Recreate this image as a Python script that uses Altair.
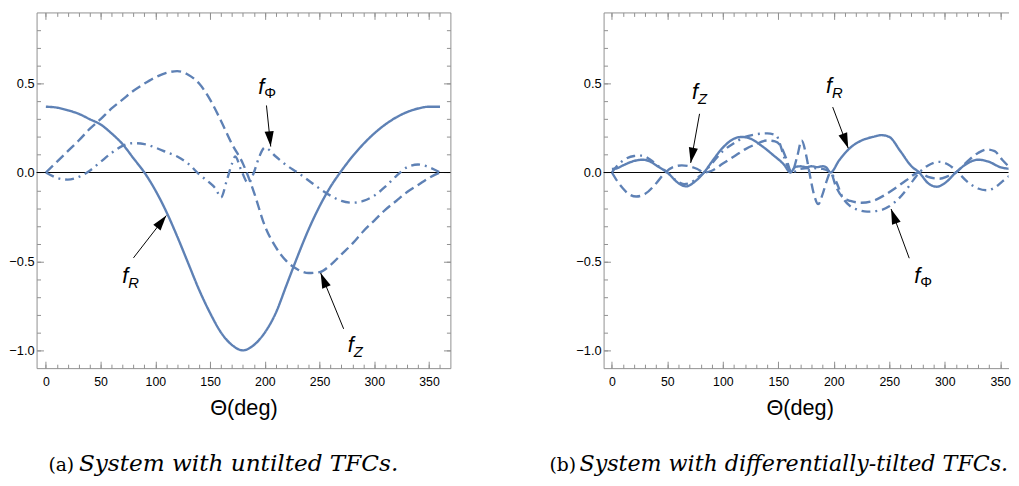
import math
import altair as alt
import pandas as pd

# ---------------- data ----------------
# Panel (a): untilted TFCs
A_R_THETA = [0, 10, 20, 30, 40, 50, 60, 70, 80, 90, 100, 110, 120, 130, 140, 150, 160, 170, 180,
             190, 200, 210, 220, 230, 240, 250, 260, 270, 280, 290, 300, 310, 320, 330, 340, 350, 360]
A_R_VAL = [0.37, 0.365, 0.35, 0.33, 0.30, 0.27, 0.22, 0.16, 0.08, 0.00, -0.10, -0.22, -0.36, -0.51,
           -0.66, -0.79, -0.90, -0.97, -1.00, -0.97, -0.90, -0.79, -0.63, -0.47, -0.32, -0.19, -0.08,
           0.01, 0.09, 0.16, 0.22, 0.27, 0.31, 0.34, 0.36, 0.37, 0.37]

A_Z_THETA = [0, 10, 20, 30, 40, 50, 60, 70, 80, 90, 100, 110, 120, 130, 140, 150, 160, 170, 180,
             190, 200, 210, 220, 230, 240, 250, 260, 270, 280, 290, 300, 310, 320, 330, 340, 350, 360]
A_Z_VAL = [0.0, 0.06, 0.12, 0.18, 0.245, 0.30, 0.36, 0.41, 0.46, 0.50, 0.535, 0.56, 0.57, 0.55,
           0.50, 0.41, 0.29, 0.16, 0.05, -0.11, -0.30, -0.42, -0.50, -0.545, -0.565, -0.56, -0.52,
           -0.46, -0.40, -0.33, -0.27, -0.21, -0.16, -0.11, -0.07, -0.03, 0.0]

A_P_THETA = [0, 10, 20, 30, 40, 50, 60, 70, 80, 90, 100, 110, 120, 130, 140, 150, 155, 160, 165,
             170, 173, 178, 185, 190, 195, 200, 210, 220, 230, 240, 250, 260, 270, 280, 290, 300,
             310, 320, 330, 340, 350, 360]
A_P_VAL = [0.0, -0.03, -0.04, -0.025, 0.01, 0.06, 0.11, 0.15, 0.165, 0.16, 0.14, 0.115, 0.09, 0.05,
           -0.01, -0.06, -0.09, -0.14, -0.05, 0.05, 0.09, 0.02, -0.06, 0.0, 0.09, 0.14, 0.09, 0.04,
           0.0, -0.045, -0.09, -0.13, -0.16, -0.17, -0.16, -0.13, -0.08, -0.02, 0.03, 0.045, 0.03, 0.0]

# Panel (b): differentially-tilted TFCs
B_R_THETA = [0, 5, 10, 20, 28, 35, 40, 50, 60, 67, 75, 83, 90, 100, 110, 117, 125, 135, 145, 155,
             161, 165, 170, 175, 180, 185, 190, 193, 197, 205, 215, 225, 235, 243, 250, 260, 270,
             277, 285, 293, 300, 310, 320, 330, 340, 350, 360]
B_R_VAL = [0.02, 0.025, 0.04, 0.065, 0.072, 0.06, 0.04, 0.0, -0.06, -0.078, -0.05, 0.0, 0.06, 0.14,
           0.19, 0.20, 0.19, 0.15, 0.10, 0.045, 0.0, 0.03, 0.035, 0.03, 0.035, 0.03, 0.035, 0.03,
           0.0, 0.07, 0.14, 0.18, 0.20, 0.21, 0.20, 0.12, 0.035, 0.0, -0.06, -0.08, -0.06, 0.0,
           0.05, 0.072, 0.06, 0.03, 0.02]

B_Z_THETA = [0, 5, 10, 15, 22, 30, 40, 48, 55, 63, 70, 77, 83, 90, 100, 110, 120, 130, 140, 147,
             152, 157, 162, 167, 171, 175, 178, 182, 186, 190, 194, 197, 202, 208, 215, 225, 235,
             245, 255, 265, 277, 285, 295, 303, 310, 320, 330, 338, 345, 352, 360]
B_Z_VAL = [0.0, -0.05, -0.09, -0.12, -0.135, -0.12, -0.06, 0.0, 0.03, 0.04, 0.035, 0.02, 0.0, 0.01,
           0.05, 0.09, 0.13, 0.16, 0.18, 0.175, 0.15, 0.08, 0.0, 0.09, 0.18, 0.10, 0.0, -0.12,
           -0.178, -0.12, -0.04, 0.0, -0.08, -0.14, -0.16, -0.17, -0.16, -0.13, -0.09, -0.045, 0.0,
           -0.025, -0.035, -0.02, 0.0, 0.06, 0.11, 0.13, 0.12, 0.07, 0.02]

B_P_THETA = [0, 5, 12, 20, 27, 35, 42, 50, 58, 65, 70, 77, 83, 90, 100, 110, 120, 130, 140, 148,
             151, 154, 158, 162, 170, 180, 190, 197, 202, 208, 215, 222, 230, 240, 250, 258, 265,
             272, 277, 285, 295, 303, 312, 320, 330, 338, 345, 352, 360]
B_P_VAL = [0.0, 0.04, 0.075, 0.093, 0.095, 0.07, 0.035, 0.0, -0.045, -0.065, -0.06, -0.03, 0.0, 0.05,
           0.12, 0.165, 0.20, 0.215, 0.22, 0.21, 0.17, 0.11, 0.04, 0.0, 0.02, 0.025, 0.02, 0.0,
           -0.05, -0.14, -0.19, -0.21, -0.22, -0.215, -0.19, -0.15, -0.10, -0.04, 0.0, 0.04, 0.06,
           0.045, 0.0, -0.05, -0.09, -0.10, -0.085, -0.05, -0.01]

SERIES = ["fR", "fZ", "fPhi"]

# axis ticks
X_MAJOR = [0, 50, 100, 150, 200, 250, 300, 350]
X_MINOR = [0, 10, 20, 30, 40, 50, 60, 70, 80, 90, 100, 110, 120, 130, 140, 150, 160, 170, 180,
           190, 200, 210, 220, 230, 240, 250, 260, 270, 280, 290, 300, 310, 320, 330, 340, 350, 360]
Y_MAJOR = [-1.0, -0.5, 0.0, 0.5]
Y_MINOR = [-1.0, -0.9, -0.8, -0.7, -0.6, -0.5, -0.4, -0.3, -0.2, -0.1, 0.0, 0.1, 0.2, 0.3, 0.4,
           0.5, 0.6, 0.7, 0.8]

# annotations: label anchor of "f", subscript, arrow start and arrow tip (data units)
A_LAB_X = [72.5, 278.6, 196.7]
A_LAB_Y = [-0.584, -0.972, 0.48]
A_LAB_SUB = ["R", "Z", "Φ"]
A_ARR_X0 = [80, 272, 201.5]
A_ARR_Y0 = [-0.48, -0.879, 0.377]
A_ARR_X1 = [110, 251, 205.4]
A_ARR_Y1 = [-0.242, -0.565, 0.146]

B_LAB_X = [74.9, 195.6, 275.3]
B_LAB_Y = [0.452, 0.486, -0.584]
B_LAB_SUB = ["Z", "R", "Φ"]
B_ARR_X0 = [79, 199, 268]
B_ARR_Y0 = [0.33, 0.368, -0.482]
B_ARR_X1 = [71, 213, 251.6]
B_ARR_Y1 = [0.054, 0.137, -0.205]

# captions
CAP_TAGS = ["(a)", "(b)"]
CAP_TEXTS = ["System with untilted TFCs.", "System with differentially-tilted TFCs."]

# ---------------- styling ----------------
BLUE = "#5E81B5"
FRAME = "#8f8f8f"
LSANS = "Liberation Sans, sans-serif"
SERIF = "DejaVu Serif"
H = 361
YDOM = [-1.1, 0.9]
ARROW_PATH = "M0,0L-0.6,2L0.6,2Z"
CAP_Y = 465


def make_df(parts):
    rows = []
    for name, th, va in parts:
        for t, v in zip(th, va):
            rows.append({"series": name, "theta": t, "value": v})
    return pd.DataFrame(rows)


def panel(df, xdom, width, lab, arr, tag, cap, tag_dx, cap_dx, cap_size, cap_limit,
          title_x=None, right_frame=True):
    xs = alt.Scale(domain=xdom, nice=False, zero=False)
    ys = alt.Scale(domain=YDOM, nice=False, zero=False)
    common = dict(grid=False, tickColor=FRAME, domainColor=FRAME, tickWidth=1, domainWidth=1)
    base = alt.Chart(df)
    xminor = [v for v in X_MINOR if xdom[0] <= v <= xdom[1]]

    xtitle = dict(title="Θ(deg)", titleFont=LSANS, titleFontSize=22, titleFontWeight="normal",
                  titleColor="black", titlePadding=10)
    if title_x is not None:
        xtitle["titleX"] = title_x

    lines = base.mark_line(strokeWidth=2.4, interpolate="monotone", color=BLUE, clip=True).encode(
        x=alt.X("theta:Q", scale=xs,
                axis=alt.Axis(orient="bottom", values=X_MAJOR, tickSize={"expr": "-7"},
                              labelPadding=15, labelFont=LSANS, labelFontSize=12.5,
                              labelColor="black", labelFlush=False, format="d", domain=True,
                              **xtitle, **common)),
        y=alt.Y("value:Q", scale=ys,
                axis=alt.Axis(orient="left", values=Y_MAJOR, tickSize={"expr": "-7"},
                              labelPadding=9.5, labelFont=LSANS, labelFontSize=13,
                              labelColor="black", format=".1f", domain=True, title=None,
                              **common)),
        strokeDash=alt.StrokeDash("series:N",
                                  scale=alt.Scale(domain=SERIES,
                                                  range=[[1, 0], [10, 5], [9, 5, 2, 5]]),
                                  legend=None),
    )

    def ax_layer(xaxis=None, yaxis=None):
        return base.mark_point(opacity=0, size=1, clip=True).encode(
            x=alt.X("theta:Q", scale=xs, axis=xaxis),
            y=alt.Y("value:Q", scale=ys, axis=yaxis))

    minor_kw = dict(labels=False, domain=False, tickSize={"expr": "-4"}, title=None, **common)
    major_kw = dict(labels=False, domain=True, tickSize={"expr": "-7"}, title=None, **common)
    axes = [
        ax_layer(xaxis=alt.Axis(orient="bottom", values=xminor, **minor_kw)),
        ax_layer(xaxis=alt.Axis(orient="top", values=X_MAJOR, **major_kw)),
        ax_layer(xaxis=alt.Axis(orient="top", values=xminor, **minor_kw)),
        ax_layer(yaxis=alt.Axis(orient="left", values=Y_MINOR, **minor_kw)),
    ]
    if right_frame:
        axes += [
            ax_layer(yaxis=alt.Axis(orient="right", values=Y_MAJOR, **major_kw)),
            ax_layer(yaxis=alt.Axis(orient="right", values=Y_MINOR, **minor_kw)),
        ]

    zero = alt.Chart(pd.DataFrame({"z": [0.0]})).mark_rule(color="black", strokeWidth=1).encode(
        y=alt.Y("z:Q", scale=ys, axis=None))

    # annotations
    px_x = width / (xdom[1] - xdom[0])
    px_y = H / (YDOM[1] - YDOM[0])
    lx, ly, lsub = lab
    x0, y0, x1, y1 = arr
    ang = [math.degrees(math.atan2((b - a) * px_x, (d - c) * px_y)) % 360
           for a, b, c, d in zip(x0, x1, y0, y1)]
    adf = pd.DataFrame({"x0": x0, "y0": y0, "x1": x1, "y1": y1, "ang": ang})
    ldf = pd.DataFrame({"x": lx, "y": ly, "sub": lsub})

    arrows = alt.Chart(adf).mark_rule(color="black", strokeWidth=1).encode(
        x=alt.X("x0:Q", scale=xs, axis=None), y=alt.Y("y0:Q", scale=ys, axis=None),
        x2="x1:Q", y2="y1:Q")
    heads = alt.Chart(adf).mark_point(shape=ARROW_PATH, filled=True, color="black",
                                      opacity=1, size=240, strokeWidth=0).encode(
        x=alt.X("x1:Q", scale=xs, axis=None), y=alt.Y("y1:Q", scale=ys, axis=None),
        angle=alt.Angle("ang:Q", scale=None))
    fs = alt.Chart(ldf).mark_text(text="f", font=LSANS, fontStyle="italic", fontSize=22,
                                  color="black", align="center", baseline="middle").encode(
        x=alt.X("x:Q", scale=xs, axis=None), y=alt.Y("y:Q", scale=ys, axis=None))
    subs_it = alt.Chart(ldf[ldf["sub"] != "Φ"]).mark_text(
        font=LSANS, fontStyle="italic", fontSize=15, color="black", align="left",
        baseline="middle", dx=3, dy=7).encode(
        x=alt.X("x:Q", scale=xs, axis=None), y=alt.Y("y:Q", scale=ys, axis=None),
        text="sub:N")
    subs_up = alt.Chart(ldf[ldf["sub"] == "Φ"]).mark_text(
        font=LSANS, fontSize=15, color="black", align="left",
        baseline="middle", dx=3, dy=6).encode(
        x=alt.X("x:Q", scale=xs, axis=None), y=alt.Y("y:Q", scale=ys, axis=None),
        text="sub:N")

    cdf = pd.DataFrame({"tag": [tag], "cap": [cap]})
    cap_tag = alt.Chart(cdf).mark_text(font=SERIF, fontSize=19, color="black", align="left",
                                       baseline="alphabetic", x=tag_dx, y=CAP_Y).encode(
        text="tag:N")
    cap_txt = alt.Chart(cdf).mark_text(font=SERIF, fontStyle="italic", fontSize=cap_size,
                                       color="black", align="left", baseline="alphabetic",
                                       x=cap_dx, y=CAP_Y, limit=cap_limit,
                                       ellipsis="\u200b").encode(text="cap:N")

    return alt.layer(zero, lines, *axes, arrows, heads, fs, subs_it, subs_up, cap_tag,
                     cap_txt).resolve_axis(x="independent", y="independent").properties(
        width=width, height=H)


df_a = make_df([("fR", A_R_THETA, A_R_VAL), ("fZ", A_Z_THETA, A_Z_VAL), ("fPhi", A_P_THETA, A_P_VAL)])
df_b = make_df([("fR", B_R_THETA, B_R_VAL), ("fZ", B_Z_THETA, B_Z_VAL), ("fPhi", B_P_THETA, B_P_VAL)])

pa = panel(df_a, [-8.5, 369.5], 420,
           (A_LAB_X, A_LAB_Y, A_LAB_SUB), (A_ARR_X0, A_ARR_Y0, A_ARR_X1, A_ARR_Y1),
           CAP_TAGS[0], CAP_TEXTS[0], 12, 43, 23.5, 400)
pb = panel(df_b, [-7.5, 357.5], 411,
           (B_LAB_X, B_LAB_Y, B_LAB_SUB), (B_ARR_X0, B_ARR_Y0, B_ARR_X1, B_ARR_Y1),
           CAP_TAGS[1], CAP_TEXTS[1], -55, -24.5, 22.5, 436,
           title_x=199, right_frame=False)

chart = alt.hconcat(pa, pb, spacing=99.5).properties(
    padding={"left": 0, "top": 0, "right": 0, "bottom": 0}
).configure_view(stroke=None)

chart.save("out.html", embed_options={"renderer": "svg", "actions": False})
